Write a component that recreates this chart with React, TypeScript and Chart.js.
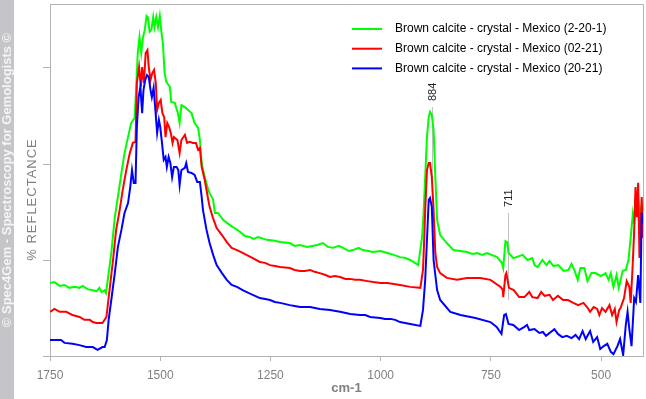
import React, { useEffect, useRef } from 'react';
import { Chart, registerables } from 'chart.js';

Chart.register(...registerables);

const seriesLabels = [
  'Brown calcite - crystal - Mexico (2-20-1)',
  'Brown calcite - crystal - Mexico (02-21)',
  'Brown calcite - crystal - Mexico (20-21)',
];
const seriesColors = ['#00ff00', '#ff0000', '#0000ff'];

// [wavenumber cm-1, reflectance]
const greenPoints: [number, number][] = [
  [1750, 22.8], [1740, 23.1], [1728, 21.9], [1717, 22.2], [1706, 21.3], [1694, 21.6], [1683, 21.3], [1676, 21.9],
  [1665, 20.9], [1656, 20.6], [1644, 20.3], [1638, 21.3], [1633, 20.0], [1626, 20.6], [1623, 19.7], [1619, 23.8],
  [1611, 32.2], [1603, 43.4], [1596, 49.7], [1588, 57.2], [1581, 63.4], [1573, 68.4], [1566, 72.8], [1558, 74.4],
  [1554, 85.3], [1551, 94.7], [1547, 99.7], [1543, 94.7], [1539, 99.7], [1535, 101.9], [1531, 106.3], [1528, 105.9],
  [1524, 101.3], [1520, 101.9], [1516, 105.9], [1513, 102.8], [1509, 105.9], [1505, 102.8], [1501, 106.3], [1497, 100.9],
  [1494, 97.8], [1490, 88.4], [1486, 85.6], [1478, 84.1], [1475, 79.4], [1467, 79.1], [1460, 75.9], [1456, 72.8],
  [1452, 78.4], [1444, 77.8], [1437, 76.9], [1429, 75.9], [1422, 72.8], [1414, 71.3], [1410, 67.5], [1406, 60.3],
  [1399, 55.9], [1391, 51.9], [1388, 50.9], [1380, 48.8], [1376, 44.7], [1369, 44.7], [1357, 42.5], [1342, 40.9],
  [1335, 40.3], [1319, 38.8], [1308, 37.5], [1297, 37.2], [1288, 36.6], [1278, 37.2], [1258, 36.3], [1240, 36.0],
  [1228, 35.6], [1206, 35.3], [1195, 34.4], [1183, 34.7], [1167, 34.1], [1155, 34.4], [1144, 34.7], [1131, 35.3],
  [1120, 34.1], [1108, 33.8], [1095, 34.4], [1085, 33.8], [1072, 32.8], [1063, 33.1], [1050, 33.8], [1040, 33.1],
  [1028, 32.8], [1017, 32.5], [1000, 32.8], [985, 32.2], [970, 31.6], [956, 30.9], [944, 30.6], [933, 30.0],
  [915, 28.4], [906, 37.2], [903, 44.0], [899, 55.9], [895, 68.4],
  [891, 74.7], [888, 76.3], [884, 75.3], [880, 70.6], [876, 55.9], [872, 42.5], [865, 37.8], [850, 35.3],
  [835, 33.1], [820, 32.8], [804, 32.5], [792, 31.9], [781, 32.2], [770, 31.6], [759, 32.2], [736, 30.9],
  [725, 29.1], [722, 27.5], [717, 35.9],
  [713, 35.6], [710, 32.2], [699, 30.6], [678, 31.6], [667, 30.0], [656, 30.6], [651, 28.4], [644, 27.8],
  [633, 30.0], [624, 28.4], [617, 29.7], [608, 28.1], [597, 28.4], [585, 26.6], [574, 26.9], [567, 28.8],
  [560, 26.6], [553, 23.8], [547, 27.5], [538, 27.5], [531, 23.4], [522, 25.9], [513, 25.9], [501, 25.0],
  [490, 25.9], [483, 23.8], [478, 25.9], [472, 21.6], [465, 25.3], [460, 21.3], [451, 26.6], [444, 26.9],
  [438, 30.0], [433, 36.9], [428, 44.4], [425, 41.3], [422, 48.8], [417, 50.3], [413, 44.1], [408, 47.2], [405, 39.4],
];

const redPoints: [number, number][] = [
  [1750, 13.8], [1740, 14.7], [1728, 13.8], [1713, 13.8], [1699, 12.8], [1683, 12.2], [1672, 11.3], [1660, 11.3],
  [1653, 10.6], [1645, 10.3], [1638, 10.3], [1631, 10.3], [1622, 12.2], [1615, 20.6], [1607, 30.0], [1600, 39.4],
  [1592, 45.6], [1585, 51.9], [1577, 58.1], [1569, 63.4], [1562, 66.6], [1556, 66.9], [1553, 85.3], [1548, 90.3],
  [1544, 84.1], [1541, 90.3], [1537, 85.3], [1533, 94.7], [1529, 95.6], [1526, 90.3], [1522, 86.3], [1518, 88.4],
  [1514, 89.4], [1510, 85.3], [1507, 76.9], [1503, 79.1], [1499, 80.0], [1495, 75.9], [1491, 74.7], [1488, 68.4],
  [1484, 72.8], [1480, 71.6], [1476, 69.7], [1472, 66.6], [1469, 68.4], [1461, 67.5], [1456, 63.4], [1452, 67.5],
  [1444, 69.1], [1439, 66.6], [1433, 66.9], [1426, 66.6], [1419, 66.6], [1414, 64.4], [1410, 65.0], [1406, 59.1],
  [1399, 55.0], [1391, 48.8], [1388, 46.6], [1381, 43.4], [1372, 40.0], [1360, 37.8], [1349, 35.6], [1338, 33.8],
  [1326, 33.1], [1313, 32.2], [1300, 31.3], [1290, 30.6], [1274, 29.4], [1262, 29.1], [1251, 28.4], [1240, 28.1],
  [1228, 27.8], [1206, 27.5], [1195, 26.9], [1183, 26.6], [1172, 26.6], [1160, 26.9], [1150, 26.3], [1138, 25.9],
  [1125, 25.3], [1115, 24.7], [1104, 25.0], [1092, 24.7], [1080, 24.1], [1069, 24.1], [1058, 23.8], [1047, 23.8],
  [1030, 23.4], [1017, 23.1], [1000, 22.8], [985, 22.8], [970, 22.5],
  [956, 22.2], [933, 21.6], [910, 21.3], [904, 26.9], [901, 37.2], [899, 45.6], [895, 58.1], [891, 60.3],
  [888, 60.3], [884, 55.9], [880, 45.6], [876, 32.2], [872, 27.8], [865, 25.9], [850, 24.4], [827, 23.8],
  [804, 24.4], [774, 24.4], [751, 23.8], [728, 21.6], [723, 20.6], [722, 18.4], [717, 25.3], [715, 25.9],
  [709, 21.3], [698, 20.6], [686, 18.4], [674, 18.4], [663, 20.0], [656, 18.4], [644, 18.1], [636, 20.0],
  [628, 18.8], [617, 19.1], [609, 17.5], [598, 18.8], [586, 17.5], [575, 17.5], [563, 16.6], [552, 15.9],
  [540, 16.6], [532, 15.3], [525, 13.8], [517, 15.3], [509, 14.7], [504, 12.8], [498, 15.0], [490, 13.8],
  [481, 15.9], [475, 12.8], [469, 14.7], [465, 10.6], [459, 14.4], [456, 15.0], [448, 18.1], [442, 23.4],
  [436, 21.6], [433, 16.6], [429, 26.6], [425, 39.1], [422, 52.8], [419, 43.4], [416, 54.1], [413, 30.6],
  [408, 49.7], [405, 36.9],
];

const bluePoints: [number, number][] = [
  [1750, 5.0], [1736, 5.0], [1725, 5.0], [1717, 4.1], [1699, 3.8], [1683, 3.4], [1668, 2.8], [1653, 2.8],
  [1642, 1.9], [1631, 2.8], [1626, 2.8], [1621, 5.0], [1617, 11.3], [1611, 17.5], [1603, 25.9], [1596, 34.1],
  [1588, 39.4], [1581, 44.7], [1573, 47.8], [1568, 52.8], [1564, 58.1], [1560, 54.1], [1556, 54.1], [1553, 71.6],
  [1549, 80.9], [1545, 84.1], [1541, 75.9], [1538, 83.1], [1534, 86.3], [1530, 87.8], [1526, 87.2], [1522, 83.1],
  [1519, 80.9], [1515, 83.8], [1511, 76.9], [1507, 69.7], [1503, 73.8], [1500, 71.6], [1496, 66.6], [1492, 61.3],
  [1488, 62.2], [1485, 59.1], [1481, 62.2], [1477, 60.3], [1473, 55.9], [1469, 59.1], [1463, 59.1], [1459, 58.1],
  [1456, 53.4], [1452, 58.1], [1444, 58.8], [1441, 60.3], [1437, 57.5], [1429, 57.2], [1422, 56.6], [1416, 54.4],
  [1410, 54.4], [1406, 49.7], [1403, 45.6], [1395, 39.4], [1388, 35.3], [1380, 31.6], [1372, 28.4], [1360, 25.9],
  [1349, 23.8], [1338, 22.2], [1326, 21.6], [1313, 20.6], [1300, 19.7], [1290, 19.1], [1274, 18.1], [1262, 17.8],
  [1251, 17.5], [1240, 16.9], [1228, 16.6], [1206, 15.9], [1195, 15.6], [1183, 15.3], [1160, 15.3], [1138, 14.7],
  [1115, 14.4], [1092, 13.8], [1069, 13.1], [1047, 12.8], [1035, 12.8], [1024, 12.2], [1001, 11.9], [990, 11.6],
  [978, 11.6], [967, 11.3], [956, 10.6], [933, 10.0], [910, 9.4], [904, 14.4], [899, 23.8],
  [894, 39.4], [891, 48.8], [888, 49.4], [884, 46.6], [880, 30.0], [872, 20.6], [865, 17.5], [842, 13.8],
  [819, 12.8], [785, 11.9], [751, 10.6], [737, 9.1], [726, 6.9], [720, 12.8], [716, 13.1], [710, 10.0],
  [699, 9.7], [686, 8.1], [674, 9.1], [668, 9.7], [663, 8.1], [651, 8.4], [640, 7.2], [632, 7.5],
  [625, 6.3], [617, 7.2], [606, 8.4], [598, 6.9], [588, 5.9], [578, 6.3], [567, 5.6], [558, 6.6],
  [550, 5.3], [542, 7.8], [535, 5.3], [525, 7.8], [518, 4.4], [509, 5.9], [502, 2.2], [494, 3.1],
  [486, 3.8], [478, 1.3], [472, 0.6], [463, 3.1], [457, 5.3], [450, 0.3], [444, 9.7], [440, 13.8],
  [436, 8.4], [431, 3.1], [425, 18.1], [421, 16.9], [416, 25.3], [411, 16.6], [408, 44.7], [405, 41.3],
];

const peakPositions = [884, 711];
const peakLabels = ['884', '711'];
const peakLineTop = [77.8, 44.7];
const peakLineBottom = [50.9, 17.5];

const xMin = 405;
const xMax = 1750;
const xStep = 250;
const yMin = 0;
const yMax = 110;
const yStep = 30;

const AXIS_GRAY = '#b4b4b4';
const TEXT_GRAY = '#808080';
const FONT = '"Liberation Sans", Arial, sans-serif';

const decorPlugin = {
  id: 'decor',
  beforeDraw(chart: any) {
    const { ctx, width, height, chartArea } = chart;
    ctx.save();
    ctx.fillStyle = '#ffffff';
    ctx.fillRect(0, 0, width, height);
    ctx.fillStyle = '#c5c4c8';
    ctx.fillRect(0, 0, 14, height);
    ctx.save();
    ctx.translate(7.5, (chartArea.top + chartArea.bottom) / 2);
    ctx.rotate(-Math.PI / 2);
    ctx.font = `bold 13px ${FONT}`;
    ctx.fillStyle = '#f4f4f4';
    ctx.textAlign = 'center';
    ctx.textBaseline = 'middle';
    ctx.fillText('© Spec4Gem - Spectroscopy for Gemologists ©', 0, 0);
    ctx.restore();
    ctx.save();
    ctx.translate(32, height / 2);
    ctx.rotate(-Math.PI / 2);
    ctx.font = `13px ${FONT}`;
    (ctx as any).letterSpacing = '1px';
    ctx.fillStyle = TEXT_GRAY;
    ctx.textAlign = 'center';
    ctx.textBaseline = 'middle';
    ctx.fillText('% REFLECTANCE', 0, 0);
    ctx.restore();
    ctx.font = `bold 13px ${FONT}`;
    ctx.fillStyle = TEXT_GRAY;
    ctx.textAlign = 'center';
    ctx.textBaseline = 'middle';
    ctx.fillText('cm-1', (chartArea.left + chartArea.right) / 2, 388);
    ctx.restore();
  },
  beforeDatasetsDraw(chart: any) {
    const { ctx } = chart;
    const xs = chart.scales.x;
    const ys = chart.scales.y;
    ctx.save();
    ctx.strokeStyle = '#c0c0c0';
    ctx.lineWidth = 1;
    peakPositions.forEach((p, i) => {
      const x = Math.round(xs.getPixelForValue(p)) + 0.5;
      ctx.beginPath();
      ctx.moveTo(x, ys.getPixelForValue(peakLineTop[i]));
      ctx.lineTo(x, ys.getPixelForValue(peakLineBottom[i]));
      ctx.stroke();
    });
    ctx.restore();
  },
  afterDraw(chart: any) {
    const { ctx, chartArea } = chart;
    const xs = chart.scales.x;
    const ys = chart.scales.y;
    ctx.save();
    ctx.strokeStyle = AXIS_GRAY;
    ctx.lineWidth = 1;
    ctx.beginPath();
    ctx.moveTo(chartArea.left, chartArea.top + 0.5);
    ctx.lineTo(chartArea.right + 0.5, chartArea.top + 0.5);
    ctx.lineTo(chartArea.right + 0.5, chartArea.bottom);
    ctx.stroke();
    ctx.fillStyle = '#222222';
    ctx.font = `11px ${FONT}`;
    ctx.textAlign = 'left';
    ctx.textBaseline = 'middle';
    peakPositions.forEach((p, i) => {
      const x = xs.getPixelForValue(p) + 1;
      const y = ys.getPixelForValue(peakLineTop[i]) - 6;
      ctx.save();
      ctx.translate(x, y);
      ctx.rotate(-Math.PI / 2);
      ctx.fillText(peakLabels[i], 0, 0);
      ctx.restore();
    });
    ctx.font = `12px ${FONT}`;
    ctx.textAlign = 'left';
    ctx.textBaseline = 'middle';
    chart.data.datasets.forEach((ds: any, i: number) => {
      const y = 29 + i * 19.7;
      ctx.strokeStyle = ds.borderColor;
      ctx.lineWidth = 2;
      ctx.beginPath();
      ctx.moveTo(352, y);
      ctx.lineTo(382, y);
      ctx.stroke();
      ctx.fillStyle = '#000000';
      ctx.fillText(ds.label, 395, y);
    });
    ctx.restore();
  },
};

export default function App() {
  const canvasRef = useRef<HTMLCanvasElement | null>(null);

  useEffect(() => {
    document.body.style.margin = '0';
    const canvas = canvasRef.current;
    if (!canvas) return;
    const all = [greenPoints, redPoints, bluePoints];
    const chart = new Chart(canvas, {
      type: 'line',
      data: {
        datasets: all.map((pts, i) => ({
          label: seriesLabels[i],
          data: pts.map(([x, y]) => ({ x, y })),
          borderColor: seriesColors[i],
          backgroundColor: seriesColors[i],
          borderWidth: 2,
          pointRadius: 0,
          tension: 0,
          fill: false,
          order: 3 - i,
        })),
      },
      options: {
        animation: false,
        responsive: false,
        maintainAspectRatio: false,
        layout: { padding: { top: 4, right: 3, left: 0, bottom: 0 } },
        plugins: {
          legend: { display: false },
          tooltip: { enabled: false },
          title: { display: false },
        },
        scales: {
          x: {
            type: 'linear',
            reverse: true,
            min: xMin,
            max: xMax,
            border: { display: true, color: AXIS_GRAY, width: 1 },
            grid: { display: true, drawOnChartArea: false, drawTicks: true, tickLength: 5, color: AXIS_GRAY },
            ticks: {
              stepSize: xStep,
              includeBounds: false,
              color: TEXT_GRAY,
              font: { family: FONT, size: 12 },
              padding: 7,
              maxRotation: 0,
              autoSkip: false,
              callback: (v: any) => String(v),
            },
            afterFit: (scale: any) => {
              scale.height = 43;
            },
          },
          y: {
            type: 'linear',
            min: yMin,
            max: yMax,
            border: { display: true, color: AXIS_GRAY, width: 1 },
            grid: { display: true, drawOnChartArea: false, drawTicks: true, tickLength: 7, color: AXIS_GRAY },
            ticks: { stepSize: yStep, includeBounds: false, display: false },
            afterFit: (scale: any) => {
              scale.width = 50;
            },
          },
        },
      },
      plugins: [decorPlugin],
    });
    return () => chart.destroy();
  }, []);

  return (
    <div style={{ width: 646, height: 399 }}>
      <canvas ref={canvasRef} width={646} height={399} style={{ display: 'block', width: 646, height: 399 }} />
    </div>
  );
}
